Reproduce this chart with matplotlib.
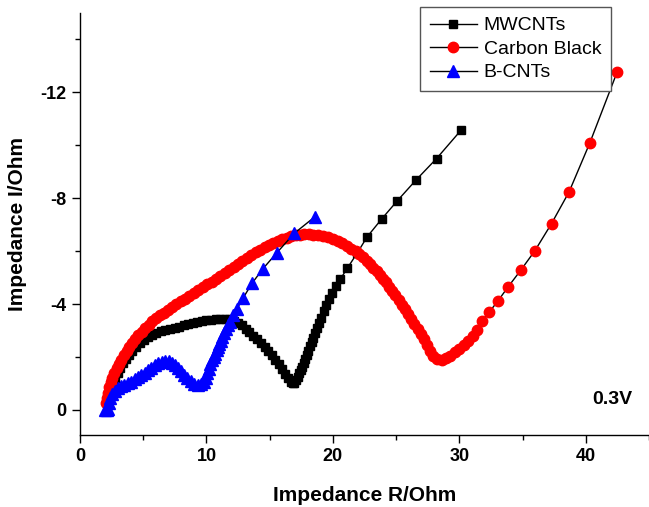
import matplotlib
matplotlib.use("Agg")
import matplotlib.pyplot as plt
from matplotlib.ticker import MultipleLocator

plt.rcParams['font.family'] = ['Liberation Sans', 'DejaVu Sans']

# MWCNTs (Z', Z'')
mw_re = [2.25, 2.35, 2.48, 2.63, 2.8, 2.98, 3.18, 3.4, 3.63, 3.88, 4.14, 4.42, 4.72,
         5.03, 5.36, 5.7, 6.05, 6.4, 6.76, 7.12, 7.48, 7.84, 8.2, 8.56, 8.92, 9.28,
         9.64, 10.0, 10.36, 10.72, 11.08, 11.44, 11.8, 12.15, 12.48, 12.8, 13.1, 13.4,
         13.7, 14.0, 14.3, 14.6, 14.9, 15.18, 15.45, 15.7, 15.95, 16.2, 16.45, 16.68,
         16.82, 16.95, 17.1, 17.22, 17.34, 17.46, 17.58, 17.7, 17.82, 17.94, 18.06,
         18.18, 18.31, 18.44, 18.57, 18.71, 18.88, 19.06, 19.26, 19.47, 19.7, 19.95,
         20.25, 20.6, 21.15, 21.94, 22.71, 23.85, 25.09, 26.56, 28.2, 30.17]
mw_im = [-0.3, -0.55, -0.8, -1.02, -1.22, -1.41, -1.59, -1.76, -1.93, -2.09, -2.24,
         -2.38, -2.51, -2.63, -2.74, -2.84, -2.92, -2.98, -3.03, -3.07, -3.11, -3.15,
         -3.19, -3.23, -3.27, -3.31, -3.35, -3.38, -3.41, -3.44, -3.45, -3.45, -3.42,
         -3.37, -3.29, -3.19, -3.07, -2.94, -2.8, -2.66, -2.52, -2.38, -2.23, -2.07,
         -1.9, -1.73, -1.55, -1.37, -1.2, -1.06, -1.0, -1.02, -1.12, -1.25, -1.38,
         -1.51, -1.63, -1.77, -1.92, -2.08, -2.24, -2.4, -2.56, -2.73, -2.9, -3.08,
         -3.28, -3.49, -3.72, -3.95, -4.18, -4.42, -4.68, -4.95, -5.36, -5.94, -6.54,
         -7.21, -7.9, -8.68, -9.5, -10.59]

# Carbon Black
cb_re = [2.05, 2.1, 2.2, 2.3, 2.42, 2.56, 2.72, 2.9, 3.08, 3.27, 3.47, 3.68, 3.9,
         4.13, 4.37, 4.62, 4.88, 5.15, 5.43, 5.72, 6.02, 6.33, 6.65, 6.97, 7.3, 7.63,
         7.97, 8.31, 8.65, 9.0, 9.35, 9.7, 10.05, 10.4, 10.75, 11.1, 11.45, 11.8,
         12.15, 12.5, 12.85, 13.2, 13.55, 13.9, 14.25, 14.6, 14.95, 15.3, 15.65, 16.0,
         16.35, 16.7, 17.05, 17.4, 17.75, 18.1, 18.45, 18.8, 19.2, 19.6, 20.0, 20.4,
         20.75, 21.1, 21.45, 21.8, 22.1, 22.4, 22.7, 22.95, 23.2, 23.45, 23.7, 23.95,
         24.2, 24.45, 24.7, 24.95, 25.2, 25.45, 25.7, 25.95, 26.2, 26.45, 26.7, 26.95,
         27.2, 27.45, 27.7, 27.95, 28.25, 28.6, 28.95, 29.3, 29.65, 30.0, 30.35, 30.7,
         31.05, 31.36, 31.83, 32.36, 33.07, 33.86, 34.86, 35.97, 37.29, 38.68, 40.32,
         42.48]
cb_im = [-0.25, -0.45, -0.65, -0.85, -1.05, -1.22, -1.4, -1.57, -1.74, -1.9, -2.06,
         -2.22, -2.38, -2.53, -2.68, -2.82, -2.96, -3.1, -3.22, -3.34, -3.46, -3.57,
         -3.68, -3.79, -3.9, -4.0, -4.1, -4.2, -4.3, -4.41, -4.52, -4.63, -4.74, -4.85,
         -4.96, -5.07, -5.18, -5.29, -5.4, -5.52, -5.63, -5.74, -5.85, -5.95, -6.05,
         -6.14, -6.23, -6.31, -6.38, -6.45, -6.51, -6.56, -6.6, -6.62, -6.63, -6.63,
         -6.62, -6.61, -6.57, -6.52, -6.46, -6.39, -6.3, -6.2, -6.09, -5.99, -5.88,
         -5.76, -5.63, -5.5, -5.37, -5.24, -5.1, -4.96, -4.82, -4.66, -4.5, -4.33,
         -4.16, -3.98, -3.8, -3.62, -3.44, -3.25, -3.06, -2.86, -2.66, -2.46, -2.24,
         -2.05, -1.93, -1.9, -1.95, -2.05, -2.17, -2.3, -2.45, -2.62, -2.8, -3.0,
         -3.36, -3.69, -4.13, -4.65, -5.28, -6.01, -7.04, -8.24, -10.09, -12.77]

# B-CNTs
bc_re = [1.95, 2.1, 2.25, 2.3, 2.4, 2.55, 2.75, 3.0, 3.25, 3.5, 3.78, 4.06, 4.33,
         4.6, 4.86, 5.11, 5.36, 5.62, 5.9, 6.18, 6.45, 6.72, 7.0, 7.25, 7.5, 7.75,
         8.0, 8.25, 8.5, 8.75, 9.0, 9.3, 9.6, 9.8, 9.95, 10.08, 10.2, 10.32, 10.46,
         10.6, 10.7, 10.8, 10.9, 11.0, 11.12, 11.25, 11.38, 11.54, 11.7, 11.86, 12.1,
         12.39, 12.88, 13.6, 14.46, 15.57, 16.94, 18.58]
bc_im = [0.0, 0.0, -0.05, -0.25, -0.45, -0.6, -0.72, -0.82, -0.89, -0.95, -1.01,
         -1.07, -1.15, -1.24, -1.32, -1.4, -1.5, -1.6, -1.68, -1.76, -1.82, -1.85,
         -1.84, -1.79, -1.7, -1.59, -1.46, -1.33, -1.2, -1.08, -0.98, -0.95, -0.96,
         -1.07, -1.22, -1.38, -1.55, -1.72, -1.88, -2.0, -2.12, -2.25, -2.38, -2.5,
         -2.62, -2.76, -2.9, -3.05, -3.2, -3.33, -3.58, -3.8, -4.21, -4.78, -5.33,
         -5.94, -6.67, -7.30]

fig = plt.figure(figsize=(6.49, 5.07), dpi=100)
ax = fig.add_axes([80/649, 72/507, 569/649, 422/507])

ax.plot(mw_re, mw_im, color='black', lw=1, marker='s', ms=6,
        mfc='black', mec='black', label='MWCNTs')
ax.plot(cb_re, cb_im, color='black', lw=1, marker='o', ms=7.5,
        mfc='red', mec='red', label='Carbon Black')
ax.plot(bc_re, bc_im, color='black', lw=1, marker='^', ms=8,
        mfc='blue', mec='blue', label='B-CNTs')

ax.set_xlim(0, 45)
ax.set_ylim(0.95, -15)
ax.xaxis.set_major_locator(MultipleLocator(10))
ax.xaxis.set_minor_locator(MultipleLocator(5))
ax.yaxis.set_minor_locator(MultipleLocator(2))
ax.set_yticks([0, -4, -8, -12])
ax.set_yticklabels(['0', '-4', '-8', '-12'])

for s in ['top', 'right']:
    ax.spines[s].set_visible(False)
for s in ['left', 'bottom']:
    ax.spines[s].set_linewidth(1.0)
ax.tick_params(which='major', direction='out', length=6, width=1, labelsize=13)
ax.tick_params(which='minor', direction='out', length=3.5, width=1)
for lab in ax.get_xticklabels() + ax.get_yticklabels():
    lab.set_fontweight('bold')

ax.set_xlabel('Impedance R/Ohm', fontsize=15, fontweight='bold', labelpad=15)
ax.set_ylabel('Impedance I/Ohm', fontsize=15, fontweight='bold', labelpad=10)

ax.text(43.7, -0.38, '0.3V', fontsize=14, fontweight='bold', ha='right', va='center')

leg = ax.legend(loc='upper right', bbox_to_anchor=(0.933, 1.014), borderaxespad=0,
                fontsize=14, fancybox=False, framealpha=1, edgecolor='#555555',
                handlelength=2.4, handletextpad=0.35, labelspacing=0.3,
                borderpad=0.5)
leg.get_frame().set_linewidth(1.0)

fig.savefig('out.png', dpi=100)
